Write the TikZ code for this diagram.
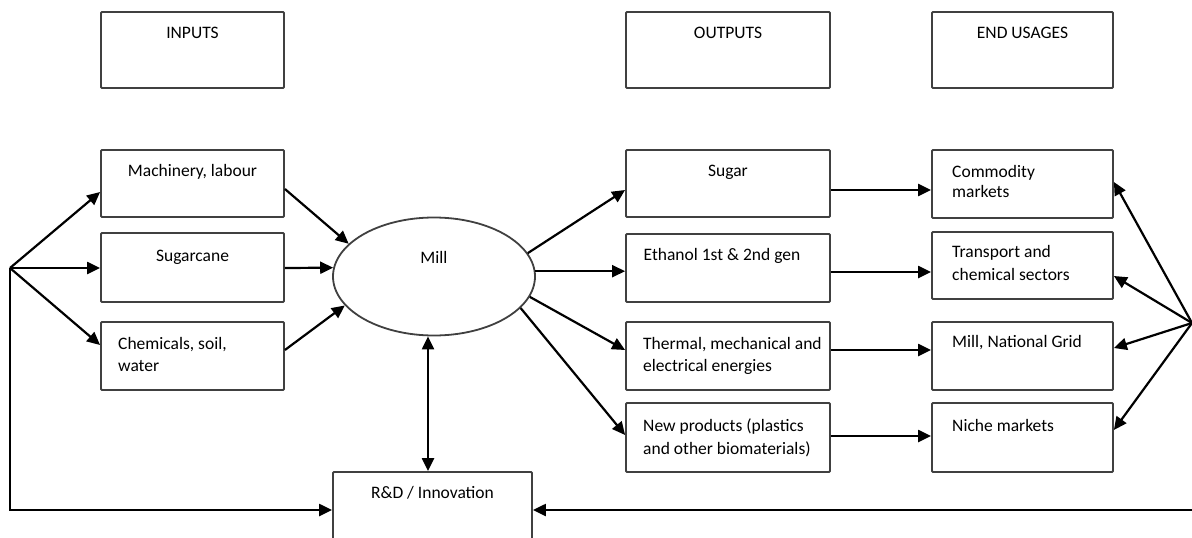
\documentclass[tikz,border=0pt]{standalone}
\usepackage{fontspec}
\setmainfont{Carlito}
\usetikzlibrary{shapes.geometric,arrows.meta}
\begin{document}
\begin{tikzpicture}[x=1pt,y=-1pt,
  bx/.style={draw=black!75, line width=1.8pt, rounded corners=1pt, inner sep=0pt, fill=white},
  lbox/.style={bx, minimum width=183pt},
  obox/.style={bx, minimum width=204pt},
  ebox/.style={bx, minimum width=181pt},
  lab/.style={font=\fontsize{17.5}{21}\selectfont, inner sep=0pt, text=black},
  arr/.style={line width=2.2pt, -{Triangle[length=13pt,width=12pt]}},
  darr/.style={line width=2.2pt, {Triangle[length=13pt,width=12pt]}-{Triangle[length=13pt,width=12pt]}}
]
\useasboundingbox (0,0) rectangle (1192,538);

% headers
\node[lbox, minimum height=76pt, label={[lab,anchor=base,yshift=-27.5pt]90:INPUTS}] (inputs) at (192.5,50) {};
\node[obox, minimum height=76pt, label={[lab,anchor=base,yshift=-27.5pt]90:OUTPUTS}] (outputs) at (728,50) {};
\node[ebox, minimum height=76pt, label={[lab,anchor=base,yshift=-27.5pt]90:END USAGES}] (endu) at (1022.5,50) {};

% inputs
\node[lbox, minimum height=67pt, label={[lab,anchor=base,yshift=-27.5pt]90:{Machinery, labour}}] (mach) at (192.5,183.5) {};
\node[lbox, minimum height=69pt, label={[lab,anchor=base,yshift=-29.5pt]90:Sugarcane}] (cane) at (192.5,267.5) {};
\node[lbox, minimum height=68pt,
  label={[lab,anchor=base west,xshift=-74.5pt,yshift=-28.5pt]90:{Chemicals, soil,}},
  label={[lab,anchor=base west,xshift=-74.5pt,yshift=-50.5pt]90:water}] (chem) at (192.5,356) {};

% mill
\node[draw=black!75, line width=1.8pt, ellipse, minimum width=202pt, minimum height=118pt, inner sep=0pt, fill=white,
  label={[lab,anchor=base,yshift=-47pt]90:Mill}] (mill) at (434,276.5) {};

% R&D
\node[bx, minimum width=199pt, minimum height=76pt, label={[lab,anchor=base,yshift=-27.5pt]90:{R\&D / Innovation}}] (rd) at (432.5,510) {};

% outputs
\node[obox, minimum height=67pt, label={[lab,anchor=base,yshift=-27.5pt]90:Sugar}] (sugar) at (728,183.5) {};
\node[obox, minimum height=68pt, label={[lab,anchor=base,xshift=-6pt,yshift=-27.5pt]90:{Ethanol 1st \& 2nd gen}}] (eth) at (728,268) {};
\node[obox, minimum height=68pt,
  label={[lab,anchor=base west,xshift=-85pt,yshift=-28.5pt]90:{Thermal, mechanical and}},
  label={[lab,anchor=base west,xshift=-85pt,yshift=-50.5pt]90:{electrical energies}}] (therm) at (728,356) {};
\node[obox, minimum height=69pt,
  label={[lab,anchor=base west,xshift=-85pt,yshift=-29pt]90:{New products (plastics}},
  label={[lab,anchor=base west,xshift=-85pt,yshift=-52pt]90:{and other biomaterials)}}] (newp) at (728,437.5) {};

% end usages
\node[ebox, minimum height=68pt,
  label={[lab,anchor=base west,xshift=-70.5pt,yshift=-28.5pt]90:Commodity},
  label={[lab,anchor=base west,xshift=-70.5pt,yshift=-48.5pt]90:markets}] (comm) at (1022.5,184) {};
\node[ebox, minimum height=67pt,
  label={[lab,anchor=base west,xshift=-70.5pt,yshift=-26.5pt]90:{Transport and}},
  label={[lab,anchor=base west,xshift=-70.5pt,yshift=-49.5pt]90:{chemical sectors}}] (trans) at (1022.5,265.5) {};
\node[ebox, minimum height=68pt,
  label={[lab,anchor=base west,xshift=-70.5pt,yshift=-26.5pt]90:{Mill, National Grid}}] (grid) at (1022.5,356) {};
\node[ebox, minimum height=69pt,
  label={[lab,anchor=base west,xshift=-70.5pt,yshift=-29.5pt]90:{Niche markets}}] (niche) at (1022.5,437.5) {};

% junction points
\coordinate (lp) at (10,268);
\coordinate (rp) at (1192,323);
\coordinate (rb) at (1196,510);

% left fan
\draw[arr] (lp) -- ([yshift=-8.5pt]mach.west);
\draw[arr] (lp) -- (lp -| cane.west);
\draw[arr] (lp) -- ([yshift=11pt]chem.west);
\draw[arr] (lp) |- (rd.west);

% into mill
\draw[arr] ([yshift=-5.5pt]mach.east) -- (mill.159);
\draw[arr] (lp -| cane.east) -- (mill.175);
\draw[arr] ([yshift=6pt]chem.east) -- (mill.198);

% out of mill
\draw[arr] (mill.14) -- ([yshift=-6.5pt]sugar.west);
\draw[arr] (mill.3) -- (mill.3 -| eth.west);
\draw[arr] (mill.-12) -- ([yshift=6pt]therm.west);
\draw[arr] (mill.-20) -- ([yshift=2.5pt]newp.west);

% mill <-> R&D
\draw[darr] ([xshift=-6pt]mill.south) -- ([xshift=-4.5pt]rd.north);

% outputs to end usages
\draw[arr] ([yshift=-6.5pt]sugar.east) -- ([yshift=-6pt]comm.west);
\draw[arr] ([yshift=-4pt]eth.east) -- ([yshift=-6.5pt]trans.west);
\draw[arr] ([yshift=6pt]therm.east) -- ([yshift=6pt]grid.west);
\draw[arr] ([yshift=1.5pt]newp.east) -- ([yshift=1.5pt]niche.west);

% right fan
\draw[arr] (rp) -- ([yshift=2pt]comm.east);
\draw[arr] (rp) -- ([yshift=-10.5pt]trans.east);
\draw[arr] (rp) -- ([yshift=8pt]grid.east);
\draw[arr] (rp) -- ([yshift=7.5pt]niche.east);
\draw[arr] (rb) -- (rd.east);
\end{tikzpicture}
\end{document}
